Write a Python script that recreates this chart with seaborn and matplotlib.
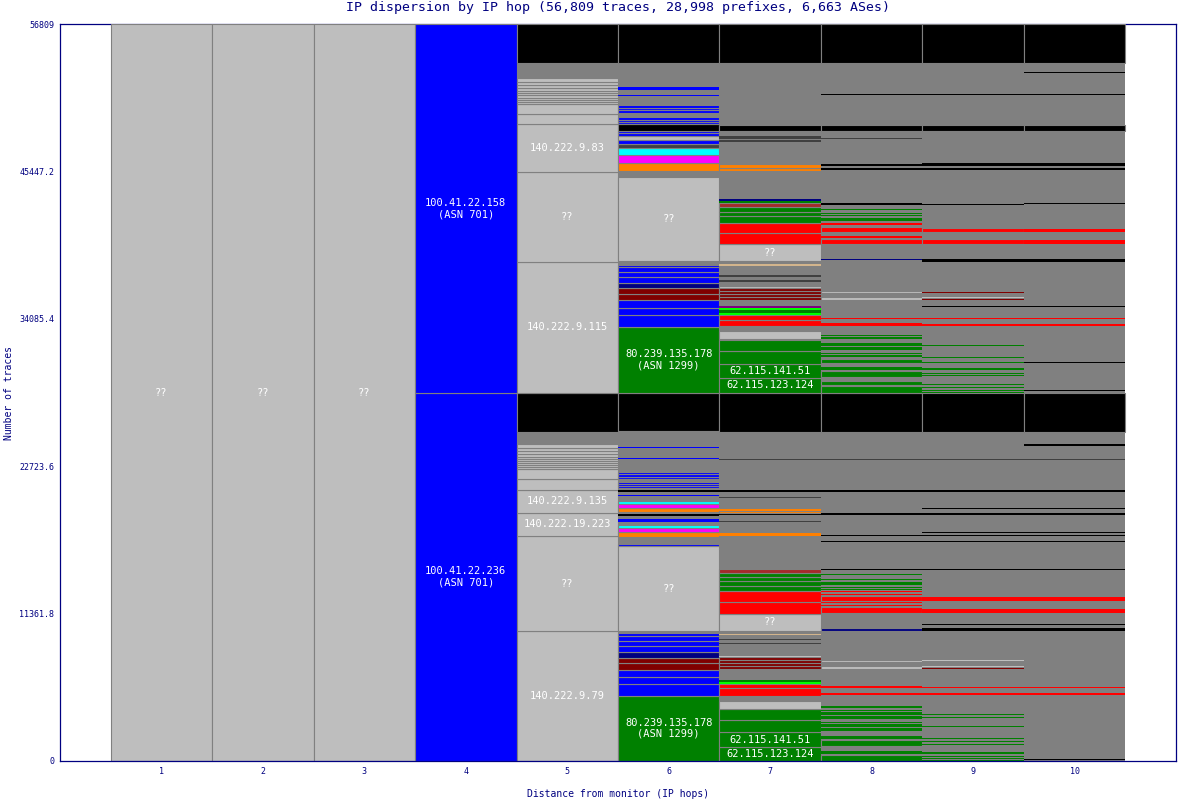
import matplotlib
matplotlib.use("Agg")
import matplotlib.pyplot as plt
import seaborn as sns

# ========================
# DATA (traces per IP segment, bottom -> top)
# ========================
title = "IP dispersion by IP hop (56,809 traces, 28,998 prefixes, 6,663 ASes)"
total_traces = 56809
hops = [1, 2, 3, 4, 5, 6, 7, 8, 9, 10]
y_ticks = [0, 11361.8, 22723.6, 34085.4, 45447.2, 56809]
y_tick_labels = ["0", "11361.8", "22723.6", "34085.4", "45447.2", "56809"]

palette = {
    'lg': '#BEBEBE', 'g': '#808080', 'k': '#000000', 'b': '#0000FF',
    'nv': '#000080', 'dr': '#800000', 'r': '#FF0000', 'gr': '#008000',
    'li': '#00FF00', 'c': '#00FFFF', 'm': '#FF00FF', 'o': '#FF8000',
    'br': '#A52A2A', 'dk': '#404040', 'tan': '#D2B48C', 'pu': '#800080',
}

hop1 = [(56809, 'lg', '??')]
hop2 = [(56809, 'lg', '??')]
hop3 = [(56809, 'lg', '??')]
hop4 = [(28367, 'b', '100.41.22.236\n(ASN 701)'), (28442, 'b', '100.41.22.158\n(ASN 701)')]

hop5_lower = [
    (10020, 'lg', '140.222.9.79'), (7323, 'lg', '??'), (1796, 'lg', '140.222.19.223'),
    (1773, 'lg', '140.222.9.135'), (802, 'lg'), (771, 'lg'),
    (150, 'lg'), (150, 'lg'), (150, 'lg'), (170, 'lg'), (170, 'lg'), (190, 'lg'),
    (200, 'lg'), (230, 'lg'), (250, 'lg'), (290, 'lg'), (925, 'g'), (3007, 'k')]
hop5_upper = [
    (10121, 'lg', '140.222.9.115'), (6937, 'lg', '??'), (3638, 'lg', '140.222.9.83'),
    (786, 'lg'), (832, 'lg'),
    (150, 'lg'), (150, 'lg'), (150, 'lg'), (170, 'lg'), (170, 'lg'), (200, 'lg'),
    (200, 'lg'), (230, 'lg'), (270, 'lg'), (300, 'lg'), (1110, 'g'), (3029, 'k')]

hop6_lower = [
    (5033, 'gr', '80.239.135.178\n(ASN 1299)'), (925, 'b'), (540, 'b'), (540, 'b'),
    (493, 'dr'), (432, 'dr'), (439, 'nv'), (439, 'b'), (385, 'b'), (409, 'b'), (208, 'b'),
    (154, 'g'), (6575, 'lg', '??'), (154, 'b'), (563, 'g'), (362, 'o'), (285, 'm'),
    (277, 'c'), (208, 'g'), (127, 'b'), (127, 'b'), (208, 'g'), (154, 'k'), (131, 'g'),
    (308, 'o'), (331, 'm'), (254, 'c'), (362, 'g'), (100, 'b'), (231, 'g'), (131, 'k'),
    (131, 'g'), (154, 'b'), (154, 'b'), (154, 'b'), (231, 'g'), (188, 'b'), (188, 'b'),
    (188, 'b'), (979, 'g'), (100, 'b'), (748, 'g'), (92, 'b'), (1218, 'g'), (2957, 'k')]
hop6_upper = [
    (5110, 'gr', '80.239.135.178\n(ASN 1299)'), (879, 'b'), (586, 'b'), (594, 'b'),
    (486, 'dr'), (462, 'dr'), (385, 'nv'), (439, 'b'), (385, 'b'), (385, 'b'), (177, 'b'),
    (262, 'g'), (6521, 'lg', '??'), (462, 'g'), (617, 'o'), (594, 'm'), (563, 'c'),
    (308, 'dk'), (308, 'b'), (308, 'lg'), (181, 'b'), (181, 'b'), (516, 'k'), (177, 'b'),
    (154, 'b'), (208, 'b'), (308, 'g'), (254, 'b'), (193, 'b'), (193, 'b'), (694, 'g'),
    (100, 'b'), (385, 'g'), (131, 'b'), (100, 'b'), (1804, 'g'), (3032, 'k')]

hop7_lower = [
    (1079, 'gr', '62.115.123.124'), (1156, 'gr', '62.115.141.51'), (948, 'gr'), (848, 'gr'),
    (594, 'lg'), (385, 'g'), (594, 'r'), (355, 'r'), (139, 'li'), (146, 'gr'), (825, 'g'),
    (243, 'dr'), (243, 'dr'), (231, 'dr'), (231, 'dr'), (100, 'lg'), (879, 'g'), (100, 'dk'),
    (231, 'g'), (100, 'dk'), (262, 'g'), (100, 'tan'), (231, 'g'),
    (1334, 'lg', '??'), (902, 'r'), (848, 'r'), (385, 'gr'), (362, 'gr'), (308, 'gr'),
    (308, 'gr'), (308, 'br'), (2567, 'g'), (108, 'o'), (100, 'o'), (848, 'g'), (100, 'dk'),
    (439, 'g'), (154, 'k'), (177, 'o'), (131, 'o'), (871, 'g'), (108, 'dk'), (355, 'g'),
    (131, 'k'), (2336, 'g'), (108, 'dk'), (2050, 'g'), (3009, 'k')]
hop7_upper = [
    (1179, 'gr', '62.115.123.124'), (1079, 'gr', '62.115.141.51'), (1002, 'gr'), (825, 'gr'),
    (100, 'g'), (594, 'lg'), (385, 'g'), (486, 'r'), (362, 'r'), (185, 'li'), (185, 'gr'),
    (193, 'li'), (131, 'pu'), (462, 'g'), (220, 'dr'), (220, 'dr'), (243, 'dr'), (243, 'dr'),
    (154, 'lg'), (331, 'g'), (108, 'dk'), (277, 'g'), (108, 'dk'), (740, 'g'), (108, 'tan'),
    (254, 'g'), (1287, 'lg', '??'), (894, 'r'), (771, 'r'), (493, 'gr'), (355, 'gr'),
    (339, 'gr'), (308, 'br'), (200, 'gr'), (131, 'nv'), (2158, 'g'), (254, 'o'), (308, 'o'),
    (1650, 'g'), (154, 'dk'), (123, 'g'), (231, 'dk'), (385, 'g'), (439, 'k'), (4756, 'g'),
    (3032, 'k')]

hop8_lower = [
    (462, 'gr'), (100, 'g'), (208, 'gr'), (385, 'g'), (462, 'gr'), (77, 'g'), (231, 'gr'),
    (385, 'g'), (208, 'gr'), (100, 'g'), (208, 'gr'), (100, 'g'), (77, 'gr'), (231, 'g'),
    (231, 'gr'), (100, 'g'), (208, 'gr'), (77, 'g'), (77, 'gr'), (154, 'g'), (154, 'gr'),
    (871, 'g'), (154, 'r'), (362, 'g'), (154, 'r'), (1310, 'g'), (231, 'lg'), (308, 'g'),
    (154, 'lg'), (2258, 'g'), (208, 'nv'), (1179, 'g'), (416, 'r'), (77, 'g'), (77, 'r'),
    (154, 'g'), (77, 'r'), (100, 'g'), (409, 'r'), (77, 'g'), (77, 'r'), (154, 'g'), (77, 'r'),
    (92, 'g'), (77, 'gr'), (77, 'g'), (77, 'gr'), (139, 'g'), (208, 'gr'), (177, 'g'),
    (77, 'gr'), (308, 'g'), (77, 'gr'), (308, 'g'), (77, 'k'), (2081, 'g'), (77, 'k'),
    (385, 'g'), (77, 'k'), (1542, 'g'), (108, 'k'), (1665, 'g'), (131, 'k'), (2336, 'g'),
    (77, 'dk'), (2081, 'g'), (2994, 'k')]
hop8_upper = [
    (540, 'gr'), (77, 'g'), (308, 'gr'), (308, 'g'), (462, 'gr'), (77, 'g'), (231, 'gr'),
    (308, 'g'), (308, 'gr'), (131, 'g'), (177, 'gr'), (100, 'g'), (77, 'gr'), (208, 'g'),
    (208, 'gr'), (77, 'g'), (254, 'gr'), (285, 'g'), (177, 'gr'), (100, 'g'), (77, 'gr'),
    (671, 'g'), (254, 'r'), (285, 'g'), (100, 'r'), (1364, 'g'), (254, 'lg'), (262, 'g'),
    (177, 'lg'), (2389, 'g'), (100, 'nv'), (1133, 'g'), (362, 'r'), (123, 'g'), (108, 'r'),
    (308, 'g'), (409, 'r'), (177, 'g'), (108, 'r'), (154, 'g'), (254, 'gr'), (154, 'g'),
    (100, 'gr'), (77, 'g'), (77, 'gr'), (231, 'g'), (77, 'gr'), (308, 'g'), (108, 'k'),
    (2567, 'g'), (131, 'k'), (200, 'g'), (131, 'k'), (1950, 'g'), (77, 'dk'), (516, 'g'),
    (462, 'k'), (2336, 'g'), (77, 'k'), (2366, 'g'), (3015, 'k')]

hop9_lower = [
    (100, 'gr'), (77, 'g'), (77, 'gr'), (92, 'g'), (77, 'gr'), (139, 'g'), (131, 'gr'),
    (578, 'g'), (77, 'gr'), (131, 'g'), (77, 'gr'), (177, 'g'), (77, 'gr'), (848, 'g'),
    (77, 'gr'), (617, 'g'), (77, 'gr'), (154, 'g'), (77, 'gr'), (1449, 'g'), (108, 'r'),
    (424, 'g'), (77, 'r'), (1395, 'g'), (92, 'dr'), (77, 'g'), (77, 'lg'), (362, 'g'),
    (77, 'lg'), (2243, 'g'), (208, 'k'), (247, 'g'), (77, 'k'), (856, 'g'), (285, 'r'),
    (640, 'g'), (285, 'r'), (2097, 'g'), (77, 'k'), (2081, 'g'), (77, 'k'), (385, 'g'),
    (77, 'k'), (177, 'g'), (77, 'k'), (1295, 'g'), (108, 'k'), (370, 'g'), (77, 'k'),
    (1218, 'g'), (131, 'k'), (2328, 'g'), (77, 'dk'), (2089, 'g'), (2987, 'k')]
hop9_upper = [
    (77, 'gr'), (92, 'g'), (77, 'gr'), (154, 'g'), (77, 'gr'), (177, 'g'), (77, 'gr'),
    (594, 'g'), (77, 'gr'), (77, 'g'), (77, 'gr'), (193, 'g'), (177, 'gr'), (401, 'g'),
    (77, 'gr'), (308, 'g'), (77, 'gr'), (848, 'g'), (77, 'gr'), (1449, 'g'), (177, 'r'),
    (378, 'g'), (77, 'r'), (848, 'g'), (77, 'k'), (486, 'g'), (77, 'dr'), (54, 'g'),
    (77, 'lg'), (331, 'g'), (77, 'dr'), (2274, 'g'), (254, 'k'), (1156, 'g'), (362, 'r'),
    (516, 'g'), (331, 'r'), (1811, 'g'), (77, 'k'), (2582, 'g'), (131, 'k'), (177, 'g'),
    (208, 'k'), (2490, 'g'), (462, 'k'), (2351, 'g'), (77, 'k'), (2351, 'g'), (3010, 'k')]

hop10_lower = [
    (100, 'g'), (77, 'k'), (4933, 'g'), (131, 'r'), (401, 'g'), (77, 'r'), (4324, 'g'),
    (208, 'k'), (247, 'g'), (77, 'k'), (856, 'g'), (285, 'r'), (640, 'g'), (285, 'r'),
    (2097, 'g'), (77, 'k'), (2081, 'g'), (77, 'k'), (385, 'g'), (77, 'k'), (177, 'g'),
    (77, 'k'), (1295, 'g'), (108, 'k'), (370, 'g'), (77, 'k'), (1218, 'g'), (131, 'k'),
    (2328, 'g'), (77, 'dk'), (1010, 'g'), (131, 'k'), (948, 'g'), (2985, 'k')]
hop10_upper = [
    (170, 'g'), (77, 'k'), (2081, 'g'), (77, 'k'), (2760, 'g'), (177, 'r'), (378, 'g'),
    (77, 'r'), (848, 'g'), (77, 'k'), (3376, 'g'), (254, 'k'), (1156, 'g'), (285, 'r'),
    (617, 'g'), (231, 'r'), (1888, 'g'), (77, 'k'), (2582, 'g'), (131, 'k'), (177, 'g'),
    (208, 'k'), (2490, 'g'), (462, 'k'), (2351, 'g'), (77, 'k'), (1596, 'g'), (77, 'k'),
    (678, 'g'), (3007, 'k')]

columns = {
    1: hop1, 2: hop2, 3: hop3, 4: hop4,
    5: hop5_lower + hop5_upper, 6: hop6_lower + hop6_upper,
    7: hop7_lower + hop7_upper, 8: hop8_lower + hop8_upper,
    9: hop9_lower + hop9_upper, 10: hop10_lower + hop10_upper,
}

# ========================
# STYLE
# ========================
sns.set_theme(style="white")
plt.rcParams['font.family'] = ['DejaVu Sans Mono', 'DejaVu Sans']
NAVY = '#000080'
BORDER = '#808080'
thin_edge_codes = {'lg', 'b', 'nv', 'dr', 'o', 'm', 'c'}


def edge_for(code, n):
    if code == 'g':
        return 'none'
    if n >= 300 or (code in thin_edge_codes and n >= 150):
        return BORDER
    return 'none'


fig = plt.figure(figsize=(11.78, 8.0), dpi=100)
ax = fig.add_axes([60 / 1178, 39 / 800, 1116 / 1178, 737 / 800])

# ========================
# BARS
# ========================
for hop in hops:
    bottom = 0
    for seg in columns[hop]:
        n, code = seg[0], seg[1]
        ax.bar(hop, n, bottom=bottom, width=1.0, color=palette[code],
               edgecolor=edge_for(code, n), linewidth=0.8, zorder=2)
        if len(seg) > 2:
            ax.text(hop, bottom + n / 2, seg[2], ha='center', va='center',
                    color='white', fontsize=7.5, linespacing=1.15, zorder=3)
        bottom += n

ax.set_xlim(0, 11)
ax.set_ylim(0, total_traces)
ax.set_xticks(hops)
ax.set_xticklabels([str(h) for h in hops])
ax.set_yticks(y_ticks)
ax.set_yticklabels(y_tick_labels)
ax.tick_params(axis='both', length=0, labelsize=6, colors=NAVY, pad=4)

for side, sp in ax.spines.items():
    sp.set_color(NAVY)
    sp.set_linewidth(0.9)
ax.spines['top'].set_zorder(1)

ax.set_title(title, color=NAVY, fontsize=9.5, pad=9)
ax.set_xlabel("Distance from monitor (IP hops)", color=NAVY, fontsize=7, labelpad=10)
ax.set_ylabel("Number of traces", color=NAVY, fontsize=7, labelpad=4)

fig.savefig("out.png", dpi=100)
